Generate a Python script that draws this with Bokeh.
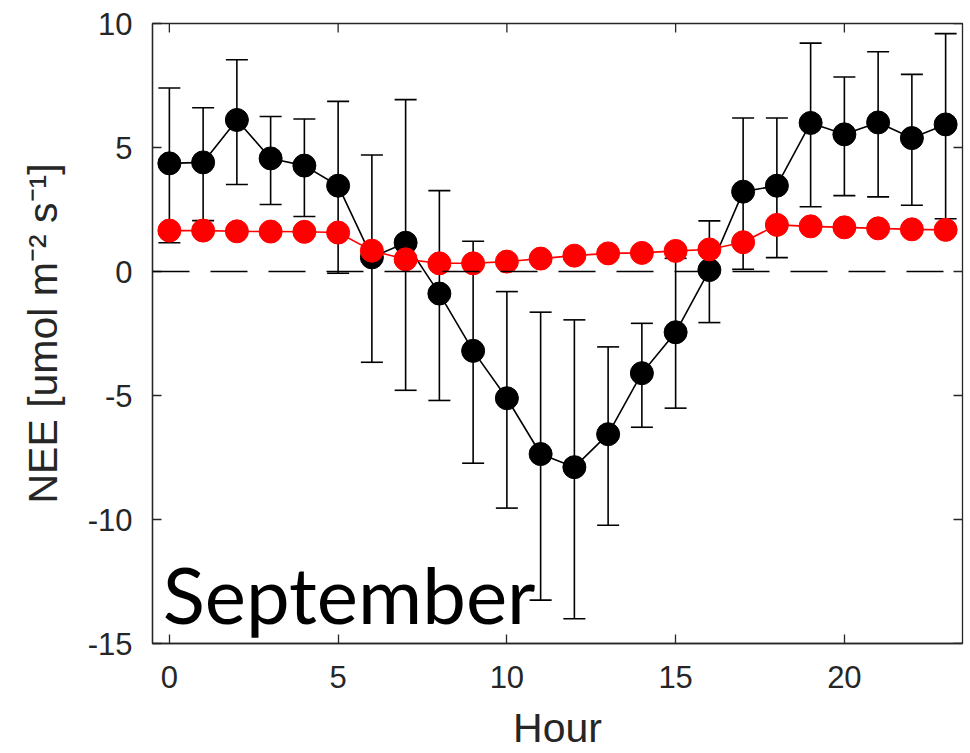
import math
from bokeh.plotting import figure
from bokeh.models import Span, FixedTicker, PrintfTickFormatter
from bokeh.core.properties import value
from bokeh.embed import file_html
from bokeh.resources import INLINE

hours = list(range(24))
nee_mean = [4.36, 4.40, 6.11, 4.56, 4.27, 3.46, 0.57, 1.16, -0.89, -3.20, -5.11, -7.36,
            -7.89, -6.56, -4.10, -2.45, 0.06, 3.22, 3.46, 5.99, 5.53, 6.01, 5.38, 5.93]
nee_upper = [7.40, 6.60, 8.54, 6.25, 6.15, 6.86, 4.70, 6.93, 3.26, 1.22, -0.81, -1.64,
             -1.95, -3.04, -2.09, 0.53, 2.04, 6.19, 6.19, 9.21, 7.84, 8.86, 7.95, 9.59]
nee_lower = [1.16, 2.05, 3.51, 2.70, 2.22, -0.07, -3.66, -4.79, -5.20, -7.73, -9.54, -13.25,
             -14.00, -10.23, -6.28, -5.51, -2.06, 0.09, 0.56, 2.61, 3.06, 3.01, 2.67, 2.13]
nee_red = [1.65, 1.65, 1.62, 1.61, 1.60, 1.57, 0.84, 0.49, 0.33, 0.33, 0.40, 0.52,
           0.64, 0.73, 0.75, 0.83, 0.89, 1.18, 1.88, 1.82, 1.78, 1.74, 1.70, 1.68]
x_ticks = [0, 5, 10, 15, 20]
y_ticks = [-15, -10, -5, 0, 5, 10]
month_label = "September"

X_MIN, X_MAX = -0.5, 23.5
Y_MIN, Y_MAX = -15, 10

AX = "#262626"
TICK_FONT = "Liberation Sans"

p = figure(width=970, height=753, x_range=(X_MIN, X_MAX), y_range=(Y_MIN, Y_MAX),
           output_backend="svg", toolbar_location=None,
           min_border_left=152, min_border_right=8, min_border_top=23, min_border_bottom=110)
p.grid.visible = False
p.outline_line_color = AX
p.outline_line_width = 1.3
p.background_fill_color = "white"
p.border_fill_color = "white"

for ax in (p.xaxis[0], p.yaxis[0]):
    ax.axis_line_color = AX
    ax.axis_line_width = 1.3
    ax.major_tick_in = 9
    ax.major_tick_out = 0
    ax.major_tick_line_color = AX
    ax.major_tick_line_width = 1.3
    ax.minor_tick_line_color = None
    ax.major_label_text_font = TICK_FONT
    ax.major_label_text_font_size = "31px"
    ax.major_label_text_color = AX
    ax.axis_label_text_font = TICK_FONT
    ax.axis_label_text_font_size = "41px"
    ax.axis_label_text_font_style = "normal"
    ax.axis_label_text_color = AX
    ax.formatter = PrintfTickFormatter(format="%d")

p.xaxis[0].ticker = FixedTicker(ticks=x_ticks)
p.yaxis[0].ticker = FixedTicker(ticks=y_ticks)
p.xaxis[0].axis_label = "Hour"
p.yaxis[0].axis_label = "NEE [umol m\u207b\u00b2 s\u207b\u00b9]"
p.xaxis[0].major_label_standoff = 22
p.xaxis[0].axis_label_standoff = 14
p.yaxis[0].major_label_standoff = 20
p.yaxis[0].axis_label_standoff = 19

# inward ticks on the top and right edges (clipped to the frame)
p.scatter(x=x_ticks, y=[Y_MAX] * len(x_ticks), marker="dash", angle=math.pi / 2, size=18,
          line_color=AX, line_width=1.3)
p.scatter(x=[X_MAX] * len(y_ticks), y=y_ticks, marker="dash", size=18,
          line_color=AX, line_width=1.3)

zero = Span(location=0, dimension="width", line_color="black", line_width=1.3,
            line_dash="37 21")
p.add_layout(zero)

# error bars
p.segment(x0=hours, y0=nee_lower, x1=hours, y1=nee_upper, line_color="black", line_width=1.6)
p.scatter(x=hours, y=nee_upper, marker="dash", size=22, line_color="black", line_width=1.6)
p.scatter(x=hours, y=nee_lower, marker="dash", size=22, line_color="black", line_width=1.6)

p.line(hours, nee_mean, line_color="black", line_width=1.6)
p.scatter(hours, nee_mean, size=23, fill_color="black", line_color="black")

p.line(hours, nee_red, line_color="#ff0000", line_width=1.6)
p.scatter(hours, nee_red, size=23, fill_color="#ff0000", line_color="#ff0000")

p.text(x=[-0.2], y=[-14.2], text=[month_label], text_font=value("Lato"),
       text_font_size="78px", text_color="black", text_baseline="alphabetic",
       text_align="left", y_offset=-30)

open("out.html", "w").write(file_html(p, INLINE))
